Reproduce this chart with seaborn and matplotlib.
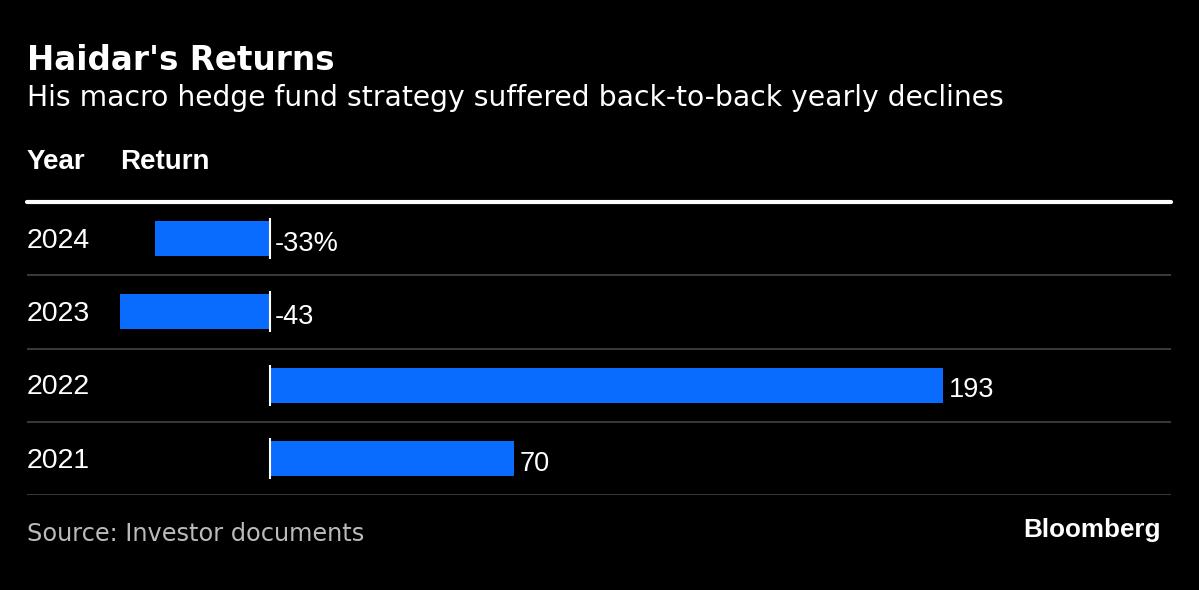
import matplotlib
matplotlib.use("Agg")
import matplotlib.pyplot as plt
import matplotlib.transforms as mtransforms
import seaborn as sns

# Data
years = ["2024", "2023", "2022", "2021"]
returns = [-33, -43, 193, 70]
value_labels = ["-33%", "-43", "193", "70"]

BG = "#000000"
BAR = "#0A6CFF"
GRID = "#444444"

sns.set_style("dark")
plt.rcParams["font.family"] = ["Liberation Sans", "DejaVu Sans"]

fig = plt.figure(figsize=(11.99, 5.90), dpi=100, facecolor=BG)
ax = fig.add_axes([27 / 1199, 1 - 495 / 590, 1144 / 1199, 293 / 590])
ax.set_facecolor(BG)

sns.barplot(x=returns, y=years, order=years, orient="h", color=BAR,
            saturation=1, width=0.48, linewidth=0, ax=ax)

ax.set_xlim(-69.6, 258.3)
ax.set_ylim(3.5, -0.5)
ax.set_xticks([])
ax.set_yticks([])
ax.set_xlabel("")
ax.set_ylabel("")
for s in ax.spines.values():
    s.set_visible(False)

# row separators and header rule
for y in [0.5, 1.5, 2.5, 3.5]:
    ax.axhline(y, color=GRID, lw=1.2, zorder=0)
ax.axhline(-0.5, color="white", lw=3, zorder=3, clip_on=False)

# zero marker for each bar
for i in range(len(years)):
    ax.vlines(0, i - 0.28, i + 0.28, color="white", lw=1.5, zorder=4)

# year labels and value labels
trans = mtransforms.blended_transform_factory(ax.transAxes, ax.transData)
for i, (yr, v, lab) in enumerate(zip(years, returns, value_labels)):
    ax.text(0, i + 0.03, yr, transform=trans, ha="left", va="center",
            color="white", fontsize=20.5)
    ax.text(max(v, 0) + 1.5, i + 0.07, lab, ha="left", va="center",
            color="white", fontsize=19.5)

# titles and headers
fig.text(27 / 1199, 1 - 61 / 590, "Haidar's Returns", color="white",
         fontsize=23.5, fontweight="bold", ha="left", va="center",
         family=["DejaVu Sans"])
fig.text(27 / 1199, 1 - 98 / 590,
         "His macro hedge fund strategy suffered back-to-back yearly declines",
         color="white", fontsize=20.3, ha="left", va="center",
         family=["DejaVu Sans"])
fig.text(27 / 1199, 1 - 162 / 590, "Year", color="white", fontsize=20,
         fontweight="bold", ha="left", va="center")
fig.text(120 / 1199, 1 - 162 / 590, "Return", color="white", fontsize=20,
         fontweight="bold", ha="left", va="center")

fig.text(27 / 1199, 1 - 534 / 590, "Source: Investor documents",
         color="#BBBBBB", fontsize=17.3, ha="left", va="center",
         family=["DejaVu Sans"])
fig.text(1161 / 1199, 1 - 530 / 590, "Bloomberg", color="white",
         fontsize=18.7, fontweight="bold", ha="right", va="center")

fig.savefig("out.png", dpi=100, facecolor=BG)
